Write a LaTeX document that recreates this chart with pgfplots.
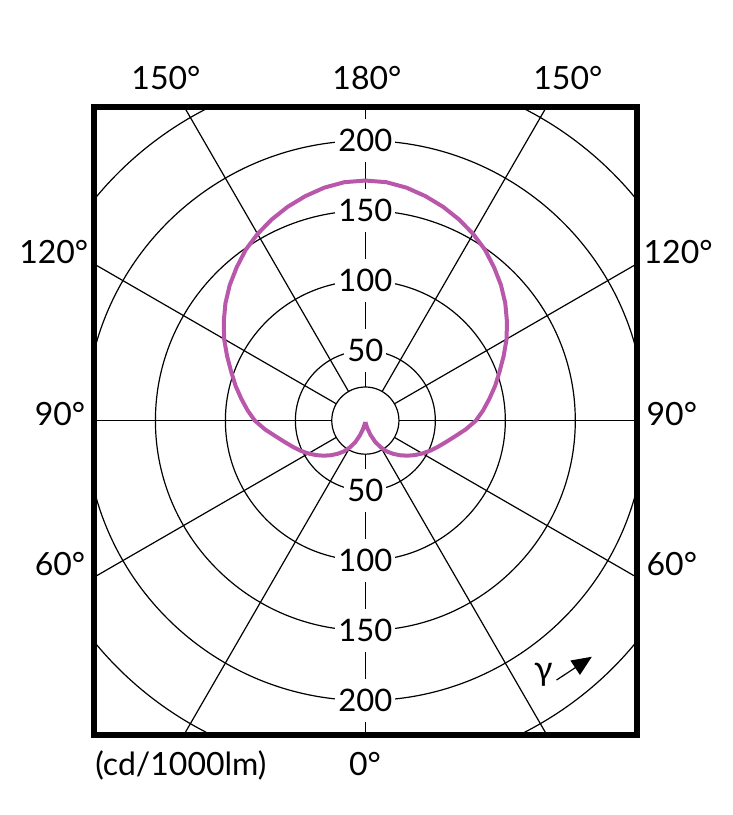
\documentclass[border=0pt]{standalone}
\usepackage{pgfplots}
\pgfplotsset{compat=1.18}
\usepackage{pgfplotstable}
\usepackage{fontspec}
\setmainfont{Lato}
\usetikzlibrary{arrows.meta}
\definecolor{curvecol}{RGB}{185,88,170}
% a = angle gamma (0 = down), measured round the full circle; I in cd/1000lm
\pgfplotstableread{
a I
0 1
5 1.5
10 2.5
15 6
20 11
25 17
30 22
35 27
40 31
45 35
50 39
55 43
60 47
65 51
70 55
75 59.5
80 65
85 72
90 79
95 84.5
100 90
105 96
110 102
115 109
120 116.5
125 123.5
130 130.5
135 137
140 143
145 149
150 154
155 158.5
160 162.5
165 166
170 169
175 171
180 171.5
185 171
190 169
195 166
200 162.5
205 158.5
210 154
215 149
220 143
225 137
230 130.5
235 123.5
240 116.5
245 109
250 102
255 96
260 90
265 84.5
270 79
275 72
280 65
285 59.5
290 55
295 51
300 47
305 43
310 39
315 35
320 31
325 27
330 22
335 17
340 11
345 6
350 2.5
355 1.5
360 1
}\curvedata
\begin{document}
\begin{tikzpicture}
\useasboundingbox (-47.1pt,-40.25pt) rectangle (319.4pt,367.35pt);
% polar grid
\begin{scope}[shift={(135.625pt,157pt)},x=0.7pt,y=0.7pt]
\clip (-193.75,-224.2857) rectangle (193.75,224.2857);
\begin{scope}[line width=0.6pt]
\foreach \r in {50,100,150,200,250} \draw (0,0) circle[radius=\r];
\foreach \t in {0,30,60,120,150,180,210,240,300,330} \draw (\t:24) -- (\t:420);
\draw[dash pattern=on 13.5pt off 21.5pt, dash phase=24.25pt] (0,0) -- (0,330);
\draw[dash pattern=on 13.5pt off 21.5pt, dash phase=24.25pt] (0,0) -- (0,-330);
\filldraw[fill=white] (0,0) circle[radius=24];
\end{scope}
\foreach \r in {50,100,150,200} {
  \node[fill=white,inner xsep=1.5pt,inner ysep=0.5pt,font=\fontsize{15.5}{18}\selectfont] at (0,\r) {\r};
  \node[fill=white,inner xsep=1.5pt,inner ysep=0.5pt,font=\fontsize{15.5}{18}\selectfont] at (0,-\r) {\r};
}
\end{scope}
\begin{axis}[at={(0,0)},anchor=south west,scale only axis,
  width=271.25pt,height=314pt,
  xmin=-193.75,xmax=193.75,ymin=-224.2857,ymax=224.2857,
  hide axis]
\addplot[curvecol,line width=2pt,line join=round] table[x expr={\thisrow{I}*sin(\thisrow{a})},y expr={-\thisrow{I}*cos(\thisrow{a})}] {\curvedata};
\end{axis}
\draw[line width=3pt] (0,0) rectangle (271.25pt,314pt);
\begin{scope}[every node/.style={font=\fontsize{16}{19}\selectfont,inner sep=0pt}]
\node[anchor=base] at (35.9pt,322.6pt) {150°};
\node[anchor=base] at (136.4pt,322.6pt) {180°};
\node[anchor=base] at (236.9pt,322.6pt) {150°};
\node[anchor=base east] at (-2.8pt,235.6pt) {120°};
\node[anchor=base] at (-17.1pt,154.75pt) {90°};
\node[anchor=base] at (-17.1pt,79.75pt) {60°};
\node[anchor=base west] at (274.6pt,235.6pt) {120°};
\node[anchor=base] at (288.9pt,154.75pt) {90°};
\node[anchor=base] at (288.9pt,79.75pt) {60°};
\node[anchor=base] at (135.4pt,-20.25pt) {0°};
\node[anchor=base west] at (0.4pt,-20.25pt) {(cd/1000lm)};
\node[font=\fontsize{17}{20}\selectfont] at (224.65pt,30pt) {γ};
\end{scope}
\draw[line width=0.6pt,-{Triangle[length=10pt,width=8.5pt]}] (231.25pt,27.25pt) -- (248.9pt,38.9pt);
\end{tikzpicture}
\end{document}
